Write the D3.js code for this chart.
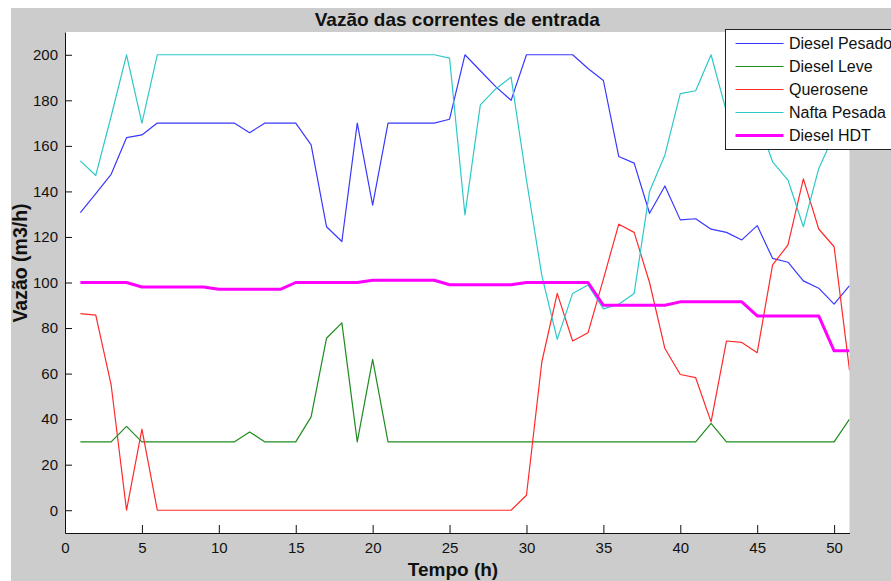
<!DOCTYPE html>
<html>
<head>
  <meta charset="utf-8">
  <title>Vazão das correntes de entrada</title>
  <script src="https://cdn.jsdelivr.net/npm/d3@7/dist/d3.min.js"></script>
  <style>
    body { margin: 0; background: #fff; }
    text { font-family: "Liberation Sans", Arial, sans-serif; }
  </style>
</head>
<body>
  <script>
    const width = 891, height = 581;
    const margin = { left: 65, right: 849.5, top: 32, bottom: 533 };

    // tempo (h)
    const tempo = [1, 2, 3, 4, 5, 6, 7, 8, 9, 10, 11, 12, 13, 14, 15, 16, 17, 18, 19, 20,
      21, 22, 23, 24, 25, 26, 27, 28, 29, 30, 31, 32, 33, 34, 35, 36, 37, 38, 39, 40,
      41, 42, 43, 44, 45, 46, 47, 48, 49, 50, 51];

    const dieselPesado = [130.7, 139, 147.5, 163.6, 164.8, 170, 170, 170, 170, 170,
      170, 165.8, 170, 170, 170, 160.4, 124.5, 118, 170, 134,
      170, 170, 170, 170, 171.7, 200, 193, 186, 180, 200,
      200, 200, 200, 194, 188.7, 155.3, 152.4, 130.4, 142.4, 127.5,
      128, 123.4, 122, 118.7, 125, 110.6, 108.9, 100.7, 97.5, 90.5, 98.6];

    const dieselLeve = [30, 30, 30, 36.8, 30, 30, 30, 30, 30, 30,
      30, 34.4, 30, 30, 30, 41, 75.5, 82.3, 30, 66.2,
      30, 30, 30, 30, 30, 30, 30, 30, 30, 30,
      30, 30, 30, 30, 30, 30, 30, 30, 30, 30,
      30, 38.1, 30, 30, 30, 30, 30, 30, 30, 30, 40];

    const querosene = [86.3, 85.7, 55, 0, 35.6, 0, 0, 0, 0, 0,
      0, 0, 0, 0, 0, 0, 0, 0, 0, 0,
      0, 0, 0, 0, 0, 0, 0, 0, 0, 6.6,
      65.2, 95.2, 74.3, 77.9, 101.5, 125.6, 122, 100, 71, 59.6,
      58.2, 38.8, 74.3, 73.7, 69.2, 107.7, 116.5, 145.5, 123.5, 115.7, 61.5];

    const naftaPesada = [153.4, 147, 173, 200, 170, 200, 200, 200, 200, 200,
      200, 200, 200, 200, 200, 200, 200, 200, 200, 200,
      200, 200, 200, 200, 198.5, 129.7, 178, 185, 190.2, 145,
      103, 75, 95.2, 98.9, 88.4, 90.5, 95.2, 140, 156, 182.9,
      184.2, 200, 175, 176, 172, 153, 145, 124.5, 150, 165, 182];

    const dieselHDT = [100, 100, 100, 100, 98, 98, 98, 98, 98, 97,
      97, 97, 97, 97, 100, 100, 100, 100, 100, 101,
      101, 101, 101, 101, 99, 99, 99, 99, 99, 100,
      100, 100, 100, 100, 90, 90, 90, 90, 90, 91.5,
      91.5, 91.5, 91.5, 91.5, 85.3, 85.3, 85.3, 85.3, 85.3, 70, 70];

    const seriesNames = ["Diesel Pesado", "Diesel Leve", "Querosene", "Nafta Pesada", "Diesel HDT"];
    const seriesValues = [dieselPesado, dieselLeve, querosene, naftaPesada, dieselHDT];
    const colors = ["#3838ff", "#1e8c1e", "#ff2a2a", "#2ec8c8", "#ff00ff"];
    const widths = [1.2, 1.2, 1.2, 1.2, 3];

    const xTicks = [0, 5, 10, 15, 20, 25, 30, 35, 40, 45, 50];
    const yTicks = [0, 20, 40, 60, 80, 100, 120, 140, 160, 180, 200];

    const svg = d3.select("body").append("svg")
      .attr("width", width)
      .attr("height", height);

    // figure background (matlab grey)
    svg.append("rect")
      .attr("x", 11).attr("y", 8)
      .attr("width", width - 11).attr("height", height - 8)
      .attr("fill", "#cccccc");

    svg.append("rect")
      .attr("x", margin.left).attr("y", margin.top)
      .attr("width", margin.right - margin.left)
      .attr("height", margin.bottom - margin.top)
      .attr("fill", "#fff");

    const xScale = d3.scaleLinear().domain([0, 51]).range([margin.left, margin.right]);
    const yScale = d3.scaleLinear().domain([-10, 210]).range([margin.bottom, margin.top]);

    svg.append("clipPath").attr("id", "plotclip")
      .append("rect")
      .attr("x", margin.left).attr("y", margin.top)
      .attr("width", margin.right - margin.left)
      .attr("height", margin.bottom - margin.top);

    const line = d3.line()
      .x((d, i) => xScale(tempo[i]))
      .y(d => yScale(d));

    svg.append("g")
      .attr("clip-path", "url(#plotclip)")
      .selectAll("path")
      .data(seriesValues)
      .enter()
      .append("path")
      .attr("d", d => line(d))
      .attr("fill", "none")
      .attr("stroke", (d, i) => colors[i])
      .attr("stroke-width", (d, i) => widths[i])
      .attr("stroke-linejoin", "round");

    const xAxis = d3.axisBottom(xScale)
      .tickValues(xTicks)
      .tickSizeInner(-8)
      .tickSizeOuter(0)
      .tickPadding(9);
    const yAxis = d3.axisLeft(yScale)
      .tickValues(yTicks)
      .tickSizeInner(-7)
      .tickSizeOuter(0)
      .tickPadding(7);

    const gx = svg.append("g")
      .attr("transform", `translate(0,${margin.bottom})`)
      .call(xAxis);
    const gy = svg.append("g")
      .attr("transform", `translate(${margin.left},0)`)
      .call(yAxis);

    [gx, gy].forEach(g => {
      g.selectAll("text").attr("font-size", 15).attr("fill", "#111")
        .attr("font-family", "'Liberation Sans', Arial, sans-serif");
      g.selectAll("line, path").attr("stroke", "#111");
    });

    // title and axis labels
    svg.append("text")
      .attr("x", (margin.left + margin.right) / 2)
      .attr("y", 26)
      .attr("text-anchor", "middle")
      .attr("font-size", 19)
      .attr("font-weight", "bold")
      .attr("fill", "#111")
      .text("Vazão das correntes de entrada");

    svg.append("text")
      .attr("x", 453)
      .attr("y", 576)
      .attr("text-anchor", "middle")
      .attr("font-size", 19)
      .attr("font-weight", "bold")
      .attr("fill", "#111")
      .text("Tempo (h)");

    svg.append("text")
      .attr("transform", "translate(27,263) rotate(-90)")
      .attr("text-anchor", "middle")
      .attr("font-size", 19.5)
      .attr("font-weight", "bold")
      .attr("fill", "#111")
      .text("Vazão (m3/h)");

    // legend
    const legend = svg.append("g").attr("transform", "translate(725.5,29.5)");
    legend.append("rect")
      .attr("width", 190).attr("height", 120)
      .attr("fill", "#fff")
      .attr("stroke", "#222")
      .attr("stroke-width", 1);

    const rows = legend.selectAll("g.row")
      .data(seriesNames)
      .enter()
      .append("g")
      .attr("class", "row")
      .attr("transform", (d, i) => `translate(0,${14 + i * 23})`);

    rows.append("line")
      .attr("x1", 10).attr("x2", 58)
      .attr("stroke", (d, i) => colors[i])
      .attr("stroke-width", (d, i) => widths[i]);

    rows.append("text")
      .attr("x", 63.5)
      .attr("dy", "0.36em")
      .attr("font-size", 16)
      .attr("fill", "#111")
      .text(d => d);
  </script>
</body>
</html>
